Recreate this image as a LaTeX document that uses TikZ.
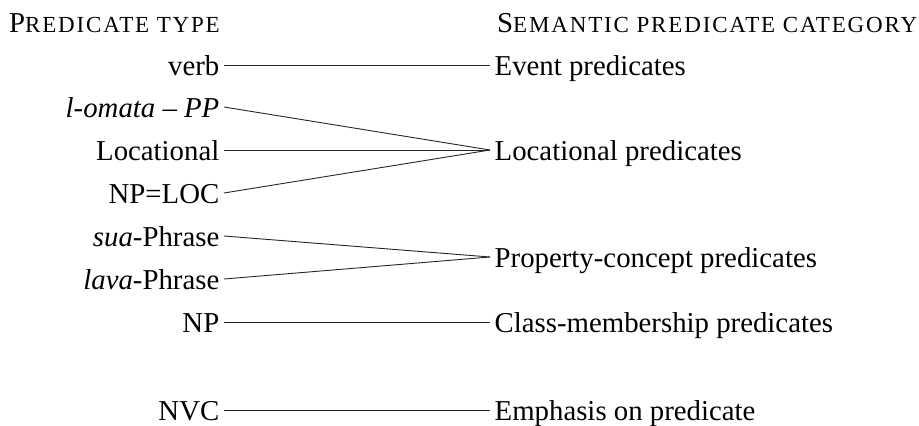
\documentclass[tikz,border=0pt]{standalone}
\usepackage{fontspec}
\setmainfont{Liberation Serif}
\newfontfamily\scfont[LetterSpace=8]{Liberation Serif}
\newcommand{\fakesc}[2]{#1{\scfont\fontsize{23}{26}\selectfont #2}}
\begin{document}
\begin{tikzpicture}[x=1pt,y=-1pt,
  lbl/.style={font=\fontsize{28.8}{34}\selectfont, inner ysep=0pt, text height=25.9pt, text depth=5.2pt},
  lft/.style={lbl, anchor=east, inner xsep=4.5pt},
  rgt/.style={lbl, anchor=west, inner xsep=4.5pt},
  hdr/.style={font=\fontsize{28.8}{34}\selectfont, inner sep=0pt},
  conn/.style={line width=0.9pt, draw=black!85}]
\useasboundingbox (0,0) rectangle (919,426);
\node[hdr, anchor=base east] (h1) at (220,32) {\fakesc{P}{REDICATE TYPE}};
\node[hdr, anchor=base west] (h2) at (497,32) {\fakesc{S}{EMANTIC PREDICATE CATEGORY}};

\node[lft] (verb) at (224,65) {verb};
\node[lft] (lom) at (224,107) {\textit{l-omata} -- \textit{PP}};
\node[lft] (locl) at (224,150) {Locational};
\node[lft] (nploc) at (224,193) {NP=LOC};
\node[lft] (sua) at (224,236) {\textit{sua}-Phrase};
\node[lft] (lava) at (224,279) {\textit{lava}-Phrase};
\node[lft] (np) at (224,322) {NP};
\node[lft] (nvc) at (224,410) {NVC};

\node[rgt] (event) at (490,65) {Event predicates};
\node[rgt] (locr) at (490,150) {Locational predicates};
\node[rgt] (prop) at (490,257) {Property-concept predicates};
\node[rgt] (class) at (490,322) {Class-membership predicates};
\node[rgt] (emph) at (490,410) {Emphasis on predicate};

\draw[conn] (verb.east) -- (event.west);
\draw[conn] (lom.east) -- (locr.west);
\draw[conn] (locl.east) -- (locr.west);
\draw[conn] (nploc.east) -- (locr.west);
\draw[conn] (sua.east) -- (prop.west);
\draw[conn] (lava.east) -- (prop.west);
\draw[conn] (np.east) -- (class.west);
\draw[conn] (nvc.east) -- (emph.west);
\end{tikzpicture}
\end{document}
